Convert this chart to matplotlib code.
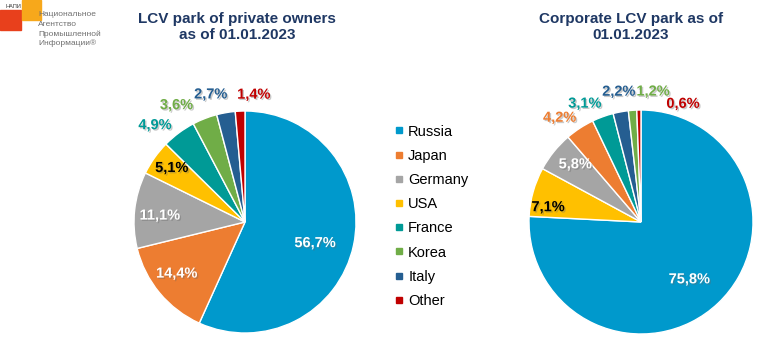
import matplotlib
matplotlib.use('Agg')
import matplotlib.pyplot as plt
import matplotlib.patheffects as pe
from matplotlib.lines import Line2D
from matplotlib.patches import Rectangle
import numpy as np

plt.rcParams['font.family'] = ['Liberation Sans', 'DejaVu Sans']

# data
countries = ['Russia', 'Japan', 'Germany', 'USA', 'France', 'Korea', 'Italy', 'Other']
private_countries = ['Russia', 'Japan', 'Germany', 'USA', 'France', 'Korea', 'Italy', 'Other']
private_share = [56.7, 14.4, 11.1, 5.1, 4.9, 3.6, 2.7, 1.4]
corp_countries = ['Russia', 'USA', 'Germany', 'Japan', 'France', 'Italy', 'Korea', 'Other']
corp_share = [75.8, 7.1, 5.8, 4.2, 3.1, 2.2, 1.2, 0.6]
title_private = 'LCV park of private owners\nas of 01.01.2023'
title_corp = 'Corporate LCV park as of\n01.01.2023'

colors = {'Russia': '#0099CC', 'Japan': '#ED7D31', 'Germany': '#A5A5A5', 'USA': '#FFC000',
          'France': '#009A96', 'Korea': '#70AD47', 'Italy': '#255E91', 'Other': '#C00000'}
navy = '#1F3864'

W, H = 762, 342
fig = plt.figure(figsize=(W / 100, H / 100), dpi=100)

LIM = 1.4

def pie_axes(cx, cy, r):
    # cx, cy in pixels from top-left, r in pixels
    size = 2 * LIM * r
    ax = fig.add_axes([(cx - size / 2) / W, (H - cy - size / 2) / H, size / W, size / H])
    return ax

shadow = [pe.withSimplePatchShadow(offset=(1, -1), shadow_rgbFace='#666666', alpha=0.35)]

def draw_pie(ax, names, vals, inside, dist, nudge):
    wedges, _ = ax.pie(vals, colors=[colors[n] for n in names], startangle=90,
                       counterclock=False, radius=1.0,
                       wedgeprops=dict(edgecolor='white', linewidth=1.0))
    # pie() resets the limits, so set them afterwards
    ax.set_xlim(-LIM, LIM)
    ax.set_ylim(-LIM, LIM)
    ax.set_aspect('equal')
    ax.axis('off')
    for w, n, v, ins, d, dn in zip(wedges, names, vals, inside, dist, nudge):
        ang = np.deg2rad((w.theta1 + w.theta2) / 2 + dn)
        x, y = d * np.cos(ang), d * np.sin(ang)
        if ins:
            tc = 'black' if n == 'USA' else 'white'
        else:
            tc = colors[n]
        ax.text(x, y, f'{v:.1f}%'.replace('.', ','), ha='center', va='center',
                fontsize=10.5, fontweight='bold', color=tc, path_effects=shadow)
    return wedges

ax1 = pie_axes(245, 222, 111)
draw_pie(ax1, private_countries, private_share,
         [True, True, True, True, False, False, False, False],
         [0.66, 0.77, 0.77, 0.82, 1.19, 1.22, 1.19, 1.15],
         [-4.6, -2.6, 1.9, -1.0, 6.3, 9.1, 5.1, -6.5])

ax2 = pie_axes(641, 222, 112)
draw_pie(ax2, corp_countries, corp_share,
         [True, True, True, False, False, False, False, False],
         [0.67, 0.84, 0.78, 1.18, 1.17, 1.18, 1.17, 1.12],
         [-3.4, 6.6, -2.4, 4.8, 5.4, -0.8, -9.6, -20.7])

fig.text(237 / W, 1 - 27 / H, title_private, ha='center', va='center', fontsize=11,
         fontweight='bold', color=navy, linespacing=1.25)
fig.text(631 / W, 1 - 27 / H, title_corp, ha='center', va='center', fontsize=11,
         fontweight='bold', color=navy, linespacing=1.25)

handles = [Line2D([], [], marker='s', ls='', color=colors[c], markersize=5) for c in countries]
fig.legend(handles, countries, loc='upper left', bbox_to_anchor=(395 / W, 1 - 124.5 / H),
           frameon=False, fontsize=10.5, handlelength=0.5, handletextpad=0.4,
           labelspacing=0.7, borderpad=0, borderaxespad=0)

# logo
fig.patches.append(Rectangle((0, 1 - 30 / H), 21 / W, 20 / H, transform=fig.transFigure,
                             color='#E8401C', zorder=1))
fig.patches.append(Rectangle((22 / W, 1 - 20 / H), 19 / W, 20 / H, transform=fig.transFigure,
                             color='#F7A81B', zorder=1))
fig.text(6 / W, 1 - 6 / H, 'НАПИ', fontsize=4, color='#333333', va='center')
logo_lines = ['Национальное', 'Агентство', 'Промышленной', 'Информации®']
for i, t in enumerate(logo_lines):
    fig.text(38 / W, 1 - (15 + 9.5 * i) / H, t, fontsize=6, color='#707070', va='center')

fig.savefig('out.png', dpi=100)
